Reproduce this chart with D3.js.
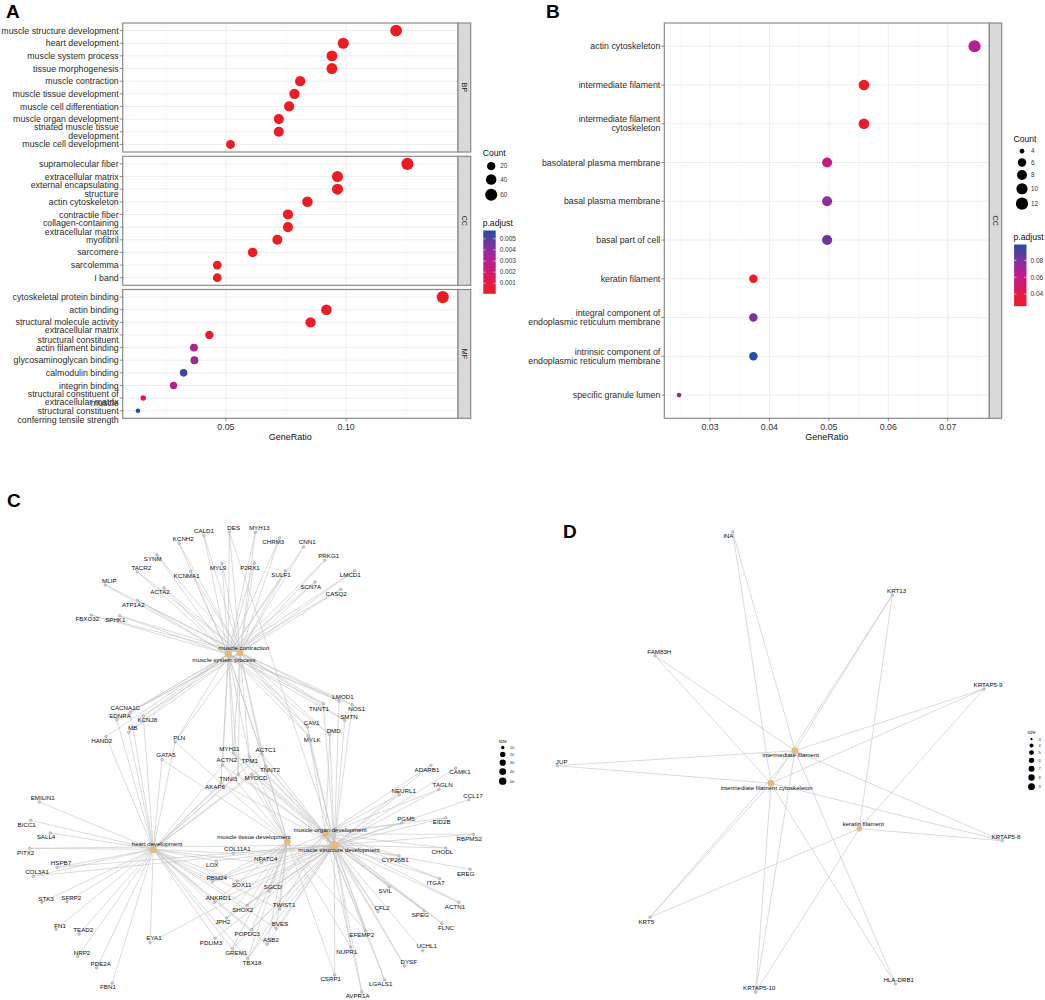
<!DOCTYPE html>
<html><head><meta charset="utf-8">
<script src="https://cdn.jsdelivr.net/npm/d3@7"></script>
<style>
body{margin:0;background:#fff}
svg{display:block}
text{font-family:"Liberation Sans",Arial,Helvetica,sans-serif}
</style></head>
<body><svg id="fig" width="1045" height="1000"></svg>
<script>
// ---------------- DATA: panel A ----------------
const aBPTerms = ["muscle structure development","heart development","muscle system process","tissue morphogenesis","muscle contraction","muscle tissue development","muscle cell differentiation","muscle organ development","striated muscle tissue\ndevelopment","muscle cell development"];
const aBPRatio = [0.1208,0.0988,0.0941,0.0941,0.0809,0.0785,0.0763,0.0720,0.0720,0.0519];
const aBPCount = [58,47,45,45,39,38,37,35,35,25];
const aBPPadj  = [0.00004,0.00005,0.00005,0.00006,0.00007,0.00008,0.00009,0.0001,0.0001,0.0002];

const aCCTerms = ["supramolecular fiber","extracellular matrix","external encapsulating\nstructure","actin cytoskeleton","contractile fiber","collagen-containing\nextracellular matrix","myofibril","sarcomere","sarcolemma","I band"];
const aCCRatio = [0.1255,0.0964,0.0964,0.0839,0.0758,0.0758,0.0714,0.0611,0.0464,0.0464];
const aCCCount = [61,47,47,41,37,37,35,30,23,23];
const aCCPadj  = [0.00004,0.00005,0.00005,0.00006,0.00007,0.00008,0.00009,0.0001,0.0002,0.0002];

const aMFTerms = ["cytoskeletal protein binding","actin binding","structural molecule activity","extracellular matrix\nstructural constituent","actin filament binding","glycosaminoglycan binding","calmodulin binding","integrin binding","structural constituent of\nmuscle","extracellular matrix\nstructural constituent\nconferring tensile strength"];
const aMFRatio = [0.1402,0.0918,0.0852,0.0431,0.0367,0.0369,0.0324,0.0282,0.0156,0.0134];
const aMFCount = [64,42,39,20,17,17,15,13,7,6];
const aMFPadj  = [0.00004,0.0001,0.0002,0.0004,0.0031,0.0036,0.0053,0.0029,0.0013,0.00575];

const aXTicks = [0.05,0.10];
const aCountLegend = [20,40,60];
const aPadjTicks = [0.001,0.002,0.003,0.004,0.005];

// ---------------- DATA: panel B ----------------
const bTerms = ["actin cytoskeleton","intermediate filament","intermediate filament\ncytoskeleton","basolateral plasma membrane","basal plasma membrane","basal part of cell","keratin filament","integral component of\nendoplasmic reticulum membrane","intrinsic component of\nendoplasmic reticulum membrane","specific granule lumen"];
const bRatio = [0.0745,0.0559,0.0559,0.0497,0.0497,0.0497,0.0373,0.0373,0.0373,0.0248];
const bCount = [12,9,9,8,8,8,6,6,6,4];
const bPadj  = [0.065,0.0262,0.031,0.058,0.075,0.083,0.0255,0.081,0.099,0.078];
const bXTicks = [0.03,0.04,0.05,0.06,0.07];
const bCountLegend = [4,6,8,10,12];
const bPadjTicks = [0.04,0.06,0.08];

// ---------------- DATA: panel C (network layout coords, local units) ----------------
const cCategories = ["muscle contraction","muscle system process","heart development","muscle tissue development","muscle organ development","muscle structure development"];
const cCatSize  = [39,45,47,38,35,58];
const cCatXY    = [[240,182.7],[228.3,184.3],[153.3,379.3],[287.3,371.7],[325.7,364],[334.3,375]];
const cCatLabXY = [[244,178],[224,189.5],[157,374.3],[254,366.7],[330,359.7],[339,380]];
// gene, node x, node y, label x, label y, linked categories (indices)
const cGenes = [
["CALD1",204,65.7,204,61,"01"],["DES",229.3,62,233.7,57.7,"015"],["MYH13",255.3,62.3,259.3,58,"01"],
["KCNH2",179,73.3,183.3,69.3,"01"],["CHRM3",279.7,67.7,273.3,72,"01"],["CNN1",303.7,76.7,307.3,72.3,"01"],
["SYNM",157,85,152.7,89.3,"01"],["PRKG1",324.7,90.3,328.7,86,"01"],["TACR2",137.3,101.7,141.3,97.7,"01"],
["MYL9",222,93.3,218,98,"01"],["P2RX1",254.3,93.3,250,97.7,"01"],["KCNMA1",190.7,101.3,186.7,106.3,"01"],
["SULF1",285.3,100.7,281,105.3,"01"],["LMCD1",354.7,100.7,350.3,105.3,"01"],["MLIP",105.3,115,109.3,110.7,"01"],
["SCN7A",315,112,310.7,116.7,"01"],["ACTA2",164,118,160,122.3,"01"],["CASQ2",340.7,119.3,336.3,124,"01"],
["ATP1A2",137.3,130.3,133.3,135,"01"],["FBXO32",91.3,145,87.3,149.3,"01"],["SPHK1",119.7,145.7,115.3,150,"01"],
["CACNA1C",130.3,242,125.3,237.7,"012"],["EDNRA",116.7,249.7,120,246,"012"],["KCNJ8",143.3,246,147.3,250.3,"012"],
["MB",128.7,262.3,132.7,258.3,"012"],["HAND2",106,266.7,101.7,271,"12"],["PLN",175,272,179.3,268,"0123"],
["GATA5",162,289.7,166,285.3,"23"],["MYH11",233.3,283,229.3,278.7,"01345"],["ACTC1",261.7,283.7,265.7,279.7,"01235"],
["ACTN2",222.7,295,226.7,290,"1235"],["TPM1",249.3,286.7,249.7,290.7,"012345"],["TNNT2",265.7,296,270,300.3,"012345"],
["TNNI3",238.3,304.3,228.3,308.5,"0125"],["MYOCD",251.7,304.3,256,308,"2345"],["AKAP6",221,313,215,317,"125"],
["LMOD1",339,231,343,227.3,"015"],["TNNT1",323.3,233.7,319,238.7,"015"],["NOS1",352.3,234.7,356.7,239.3,"015"],
["SMTN",344.7,250.3,349,246.7,"015"],["CAV1",307.3,256.7,311.7,252.7,"0145"],["DMD",329.7,264.7,333.7,261,"0145"],
["MYLK",308.3,265.7,312.3,270,"015"],
["EMILIN1",39.3,332,42.7,328,"2"],["BICC1",30.7,350.3,26.7,354.7,"2"],["SALL4",50.3,363,46,367.3,"2"],
["PITX2",29.7,378.3,25.7,382.7,"25"],["HSPB7",57,397.3,61,393.3,"25"],["COL3A1",33,406.3,37,402,"25"],
["STK3",42,432.3,46,428.7,"2"],["SFRP2",67,431.7,71.3,427.7,"2"],["FN1",56,459.3,60,455.7,"2"],
["TEAD2",79,464,83.3,459.7,"2"],["EYA1",150,472.7,154,468.3,"25"],["NRP2",77.7,486.7,82,482.7,"2"],
["PDE2A",96.7,498,100.7,493.7,"2"],["FBN1",112.3,513,108,517.3,"2"],
["COL11A1",233.3,383.3,237.3,379.3,"25"],["LOX",216.3,391,212.3,395.3,"25"],["NFATC4",261.3,392.7,265.7,388.7,"235"],
["RBM24",212.3,411.7,216.7,407.7,"2345"],["SOX11",237.3,411,241.7,415.3,"25"],["SGCD",268.7,421,272.7,417,"345"],
["ANKRD1",214.3,432.3,218.3,428,"235"],["TWIST1",279.7,439,284,434.7,"235"],["SHOX2",247,435.7,242.7,440,"2345"],
["JPH2",226.7,448,222.7,452.3,"235"],["BVES",276,458.3,280,454.3,"235"],["POPDC3",251.7,459.7,247.3,464,"235"],
["ASB2",267,474.3,271,470.3,"235"],["PDLIM3",215,468.3,211,472.7,"25"],["GREM1",232.3,478.7,236.3,483,"235"],
["TBX18",247.7,488.7,252,493,"2345"],
["ADARB1",431,295.3,427,300,"45"],["CAMK1",455.7,298,460,302.3,"5"],["TAGLN",439,319.3,442.7,315.3,"45"],
["NEURL1",399.3,324.7,403.7,321,"45"],["CCL17",469,329.7,473,325.7,"5"],["PGM5",401.7,353,406,349,"45"],
["EID2B",445.7,347.7,441.7,352,"45"],["RBPMS2",473.3,364.3,469.3,368.7,"45"],["CHODL",445.7,378,442.3,382.3,"45"],
["CYP26B1",399,385.7,395,390,"45"],["EREG",470,399.3,465.7,403.7,"5"],["ITGA7",439.7,408.7,435.7,413.3,"45"],
["SVIL",389.3,417,385.3,421.3,"45"],["ACTN1",459,432.3,455,436.7,"45"],["CFL2",378,441.7,382,437.7,"45"],
["SPEG",424.3,441,420.3,445.3,"45"],["FLNC",442,453.3,446,457.7,"45"],["EFEMP2",365.7,461,361.7,465.3,"345"],
["UCHL1",422.7,480.7,426.7,476.3,"5"],["NUPR1",350.7,477.3,346.7,482,"35"],["DYSF",404.7,496,408.7,492,"45"],
["CSRP1",334.7,505,330.7,509.3,"35"],["LGALS1",384.7,510,380.7,514.3,"45"],["AVPR1A",361.7,521.7,357.7,526.3,"45"]
];
const cSizeLegend = [10,20,30,40,50];

// ---------------- DATA: panel D ----------------
const dCategories = ["intermediate filament","intermediate filament cytoskeleton","keratin filament"];
const dCatSize  = [9,9,6];
const dCatXY    = [[247,280.7],[223,313.3],[311.3,358.7]];
const dCatLabXY = [[242.7,285.3],[218.7,318],[315.3,354.3]];
const dGenes = [
["INA",184.7,61.7,180.3,65.7,"01"],["KRT13",344.3,125,348.7,120.7,"012"],["FAM83H",107,185.7,111.3,181.7,"01"],
["KRTAP5-9",436,219,440,215,"012"],["JUP",9.3,295.7,13.7,291.7,"01"],["KRTAP5-8",454.3,370.7,458,367,"012"],
["KRT5",102,447.3,98.3,451.7,"012"],["KRTAP5-10",207.7,522,211.3,518,"012"],["HLA-DRB1",347.3,514,350.7,510,"01"]
];
const dSizeLegend = [3,4,5,6,7,8,9];

// ---------------- helpers ----------------
const svg = d3.select("#fig");
const BORDER = "#8a8a8a";
// red (low p.adjust) -> magenta -> purple -> blue (high p.adjust)
const interp = d3.scaleLinear()
  .domain([0, 0.2, 0.4, 0.55, 0.72, 0.85, 1])
  .range(["#ee1c22", "#e31a4a", "#cb1a7c", "#b41f92", "#86309b", "#5e3b9f", "#1f4ea8"])
  .interpolate(d3.interpolateRgb).clamp(true);

function multiline(g, str, x, y, lh, anchor, size, fill) {
  const lines = str.split("\n");
  const t = g.append("text").attr("x", x).attr("y", y)
    .attr("text-anchor", anchor).attr("font-size", size).attr("fill", fill);
  lines.forEach((ln, i) => {
    t.append("tspan").attr("x", x)
      .attr("dy", i === 0 ? ((-(lines.length - 1) / 2) * lh + size * 0.35) : lh)
      .text(ln);
  });
  return t;
}

function sizeScale(cmin, cmax, dmin, dmax) {
  const r = d3.scaleLinear().domain([cmin, cmax]).range([0, 1]).clamp(true);
  return c => (dmin + (dmax - dmin) * Math.sqrt(r(c))) / 2;
}

let gradId = 0;
function colorbar(g, x, y, w, h, dom, ticks, fmt) {
  const id = "grad" + (gradId++);
  const lg = svg.append("defs").append("linearGradient").attr("id", id)
    .attr("x1", 0).attr("y1", 1).attr("x2", 0).attr("y2", 0);
  d3.range(0, 1.0001, 0.05).forEach(t => lg.append("stop").attr("offset", t).attr("stop-color", interp(t)));
  g.append("rect").attr("x", x).attr("y", y).attr("width", w).attr("height", h).attr("fill", `url(#${id})`);
  const ys = d3.scaleLinear().domain(dom).range([y + h, y]);
  ticks.forEach(tk => {
    const yy = ys(tk);
    g.append("line").attr("x1", x).attr("x2", x + 2.4).attr("y1", yy).attr("y2", yy).attr("stroke", "#fff").attr("stroke-width", 0.6);
    g.append("line").attr("x1", x + w - 2.4).attr("x2", x + w).attr("y1", yy).attr("y2", yy).attr("stroke", "#fff").attr("stroke-width", 0.6);
    g.append("text").attr("x", x + w + 4).attr("y", yy).attr("dy", "0.35em")
      .attr("font-size", 6.5).attr("fill", "#333").text(fmt(tk));
  });
}

function dotPanel(o) {
  const g = svg.append("g");
  const allR = o.facets.flatMap(f => f.ratio);
  const ext = d3.extent(allR), pad = (ext[1] - ext[0]) * 0.05;
  const x = d3.scaleLinear().domain([ext[0] - pad, ext[1] + pad]).range([o.x0, o.x1]);
  const allC = o.facets.flatMap(f => f.count);
  const sz = sizeScale(d3.min(allC), d3.max(allC), o.dmin, o.dmax);
  const allP = o.facets.flatMap(f => f.padj);
  const pdom = d3.extent(allP);
  const col = d3.scaleLinear().domain(pdom).range([0, 1]);
  const step = o.ticks[1] - o.ticks[0];
  const minors = [];
  for (let v = o.ticks[0] - step / 2; v <= x.domain()[1]; v += step) if (v >= x.domain()[0]) minors.push(v);

  o.facets.forEach(f => {
    const y = d3.scalePoint().domain(f.terms).range([f.top, f.bottom]).padding(0.6);
    const pg = g.append("g");
    pg.append("rect").attr("x", o.x0).attr("y", f.top).attr("width", o.x1 - o.x0).attr("height", f.bottom - f.top).attr("fill", "#fff");
    minors.forEach(v => pg.append("line").attr("x1", x(v)).attr("x2", x(v)).attr("y1", f.top).attr("y2", f.bottom).attr("stroke", "#f3f3f3").attr("stroke-width", 0.5));
    f.terms.forEach(t => pg.append("line").attr("x1", o.x0).attr("x2", o.x1).attr("y1", y(t)).attr("y2", y(t)).attr("stroke", "#ebebeb").attr("stroke-width", 0.9));
    o.ticks.forEach(v => pg.append("line").attr("x1", x(v)).attr("x2", x(v)).attr("y1", f.top).attr("y2", f.bottom).attr("stroke", "#ebebeb").attr("stroke-width", 0.9));
    pg.selectAll("circle.d").data(f.terms).join("circle")
      .attr("cx", (t, i) => x(f.ratio[i])).attr("cy", t => y(t))
      .attr("r", (t, i) => sz(f.count[i]))
      .attr("fill", (t, i) => interp(col(f.padj[i])));
    pg.append("rect").attr("x", o.x0).attr("y", f.top).attr("width", o.x1 - o.x0).attr("height", f.bottom - f.top)
      .attr("fill", "none").attr("stroke", BORDER).attr("stroke-width", 1.2);
    pg.append("rect").attr("x", o.x1).attr("y", f.top).attr("width", o.stripW).attr("height", f.bottom - f.top)
      .attr("fill", "#d9d9d9").attr("stroke", BORDER).attr("stroke-width", 1.2);
    const cx = o.x1 + o.stripW / 2, cy = (f.top + f.bottom) / 2;
    pg.append("text").attr("transform", `translate(${cx},${cy}) rotate(90)`).attr("text-anchor", "middle")
      .attr("dy", "0.35em").attr("font-size", 7).attr("fill", "#1a1a1a").text(f.name);
    f.terms.forEach(t => {
      pg.append("line").attr("x1", o.x0 - 3).attr("x2", o.x0).attr("y1", y(t)).attr("y2", y(t)).attr("stroke", "#444").attr("stroke-width", 0.6);
      multiline(pg, t, o.x0 - 4, y(t), 9.2, "end", 8.8, "#2a2a2a");
    });
  });
  const bottom = o.facets[o.facets.length - 1].bottom;
  o.ticks.forEach(v => {
    g.append("line").attr("x1", x(v)).attr("x2", x(v)).attr("y1", bottom).attr("y2", bottom + 3).attr("stroke", "#444").attr("stroke-width", 0.6);
    g.append("text").attr("x", x(v)).attr("y", bottom + 8.5).attr("dy", "0.35em").attr("text-anchor", "middle")
      .attr("font-size", 8.8).attr("fill", "#333").text(o.fmt(v));
  });
  g.append("text").attr("x", (o.x0 + o.x1) / 2).attr("y", bottom + 19).attr("dy", "0.35em").attr("text-anchor", "middle")
    .attr("font-size", 9).attr("fill", "#111").text("GeneRatio");
  const L = o.legend;
  g.append("text").attr("x", L.x).attr("y", L.countY).attr("dy", "0.35em").attr("font-size", 8.6).attr("fill", "#111").text("Count");
  let yy = L.countY + 7;
  o.countLegend.forEach(c => {
    const r = sz(c);
    const kh = Math.max(2 * r + L.gap, 11);
    const cyy = yy + kh / 2;
    g.append("circle").attr("cx", L.x + 8.5).attr("cy", cyy).attr("r", r).attr("fill", "#000");
    g.append("text").attr("x", L.x + 17.5).attr("y", cyy).attr("dy", "0.35em").attr("font-size", 6.3).attr("fill", "#333").text(c);
    yy += kh;
  });
  g.append("text").attr("x", L.x).attr("y", L.padjY).attr("dy", "0.35em").attr("font-size", 8.6).attr("fill", "#111").text("p.adjust");
  colorbar(g, L.x + 0.6, L.padjY + 7.5, 12.4, L.barH, pdom, o.padjTicks, o.padjFmt);
}

// ---------------- Panel A ----------------
dotPanel({
  x0: 122.7, x1: 458, stripW: 12.7, dmin: 4.5, dmax: 12.3,
  facets: [
    {name: "BP", top: 23, bottom: 152, terms: aBPTerms, ratio: aBPRatio, count: aBPCount, padj: aBPPadj},
    {name: "CC", top: 156.3, bottom: 285.3, terms: aCCTerms, ratio: aCCRatio, count: aCCCount, padj: aCCPadj},
    {name: "MF", top: 289.5, bottom: 418.3, terms: aMFTerms, ratio: aMFRatio, count: aMFCount, padj: aMFPadj}
  ],
  ticks: aXTicks, fmt: d3.format(".2f"),
  countLegend: aCountLegend, padjTicks: aPadjTicks, padjFmt: d3.format(".3f"),
  legend: {x: 482.7, countY: 153, gap: 4, padjY: 223, barH: 63.3}
});

// ---------------- Panel B ----------------
dotPanel({
  x0: 664.3, x1: 989.3, stripW: 12.4, dmin: 4.7, dmax: 12.2,
  facets: [
    {name: "CC", top: 23, bottom: 418.3, terms: bTerms, ratio: bRatio, count: bCount, padj: bPadj}
  ],
  ticks: bXTicks, fmt: d3.format(".2f"),
  countLegend: bCountLegend, padjTicks: bPadjTicks, padjFmt: d3.format(".2f"),
  legend: {x: 1013.5, countY: 138.7, gap: 3.2, padjY: 237, barH: 61.7}
});

// ---------------- Networks ----------------
function network(o) {
  const g = svg.append("g");
  const x = d3.scaleLinear().domain([0, o.w]).range([o.ox, o.ox + o.w]);
  const y = d3.scaleLinear().domain([0, o.h]).range([o.oy, o.oy + o.h]);
  const rs = d3.scaleLinear().domain(o.sizeDom).range([0, 1]).clamp(true);
  const rad = n => o.rmin + (o.rmax - o.rmin) * Math.sqrt(rs(n));
  const edges = [];
  o.genes.forEach(gn => gn[5].split("").forEach(c => edges.push([gn, +c])));
  g.selectAll("line.e").data(edges).join("line")
    .attr("x1", d => x(d[0][1])).attr("y1", d => y(d[0][2]))
    .attr("x2", d => x(o.catXY[d[1]][0])).attr("y2", d => y(o.catXY[d[1]][1]))
    .attr("stroke", "#c2c2c2").attr("stroke-width", 0.6);
  g.selectAll("circle.g").data(o.genes).join("circle")
    .attr("cx", d => x(d[1])).attr("cy", d => y(d[2])).attr("r", 1.3)
    .attr("fill", "#d6d6d6").attr("stroke", "#8c8c8c").attr("stroke-width", 0.5);
  g.selectAll("circle.c").data(o.cats).join("circle")
    .attr("cx", (d, i) => x(o.catXY[i][0])).attr("cy", (d, i) => y(o.catXY[i][1]))
    .attr("r", (d, i) => rad(o.catSize[i])).attr("fill", "#e6b97d");
  g.selectAll("text.g").data(o.genes).join("text")
    .attr("x", d => x(d[3])).attr("y", d => y(d[4])).attr("dy", "0.35em").attr("text-anchor", "middle")
    .attr("font-size", 6.2).attr("fill", "#0d0d0d").text(d => d[0]);
  g.selectAll("text.c").data(o.cats).join("text")
    .attr("x", (d, i) => x(o.catLab[i][0])).attr("y", (d, i) => y(o.catLab[i][1])).attr("dy", "0.35em")
    .attr("text-anchor", "middle").attr("font-size", 6.1).attr("fill", "#0d0d0d").text(d => d);
  const L = o.legend;
  g.append("text").attr("x", L.x).attr("y", L.y).attr("dy", "0.35em").attr("text-anchor", "middle").attr("font-size", 4.5).attr("fill", "#222").text("size");
  let yy = L.y + 3.5;
  o.sizeLegend.forEach(v => {
    const r = rad(v);
    const kh = Math.max(2 * r + L.gap, 6);
    const cy = yy + kh / 2;
    g.append("circle").attr("cx", L.x).attr("cy", cy).attr("r", r).attr("fill", "#000");
    g.append("text").attr("x", L.x + 7).attr("y", cy).attr("dy", "0.35em").attr("font-size", 4.2).attr("fill", "#333").text(v);
    yy += kh;
  });
}

network({
  ox: 0, oy: 470, w: 560, h: 530,
  cats: cCategories, catSize: cCatSize, catXY: cCatXY, catLab: cCatLabXY, genes: cGenes,
  sizeDom: [10, 58], rmin: 1.7, rmax: 3.9, sizeLegend: cSizeLegend,
  legend: {x: 502.7, y: 741, gap: 2.4}
});

network({
  ox: 548, oy: 470, w: 497, h: 530,
  cats: dCategories, catSize: dCatSize, catXY: dCatXY, catLab: dCatLabXY, genes: dGenes,
  sizeDom: [3, 9], rmin: 1.1, rmax: 3.4, sizeLegend: dSizeLegend,
  legend: {x: 1031.5, y: 732.7, gap: 2.6}
});

// ---------------- Panel letters ----------------
[["A", 6, 18], ["B", 546, 17.5], ["C", 7, 507], ["D", 563, 538]].forEach(([t, px, py]) =>
  svg.append("text").attr("x", px).attr("y", py).attr("font-size", 19).attr("font-weight", "bold").attr("fill", "#000").text(t));
</script>
</body></html>
